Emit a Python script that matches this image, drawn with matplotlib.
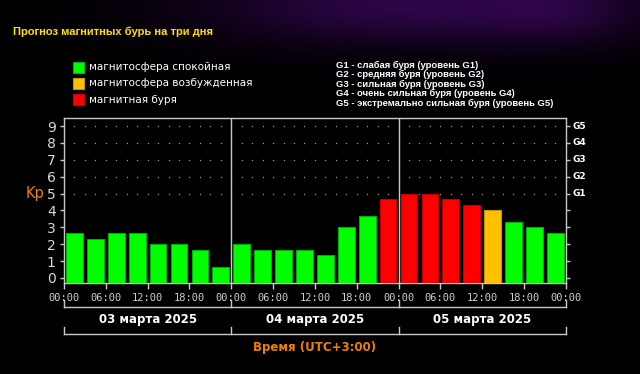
import numpy as np
import matplotlib.pyplot as plt
from matplotlib.patches import Rectangle
from matplotlib.transforms import blended_transform_factory

# Kp forecast, 3-hour intervals, 3 days
kp = [2.67, 2.33, 2.67, 2.67, 2.0, 2.0, 1.67, 0.67,
      2.0, 1.67, 1.67, 1.67, 1.33, 3.0, 3.67, 4.67,
      5.0, 5.0, 4.67, 4.33, 4.0, 3.33, 3.0, 2.67]
days = ['03 марта 2025', '04 марта 2025', '05 марта 2025']
hour_labels = ['00:00', '06:00', '12:00', '18:00']
g_levels = ['G1', 'G2', 'G3', 'G4', 'G5']
g_text = ['G1 - слабая буря (уровень G1)',
          'G2 - средняя буря (уровень G2)',
          'G3 - сильная буря (уровень G3)',
          'G4 - очень сильная буря (уровень G4)',
          'G5 - экстремально сильная буря (уровень G5)']
legend_names = ['магнитосфера спокойная', 'магнитосфера возбужденная', 'магнитная буря']

GREEN, ORANGE, RED = '#00ff00', '#ffc000', '#ff0000'
EDGE = {GREEN: '#00b000', ORANGE: '#c89600', RED: '#c00000'}


def bar_color(v):
    if v >= 4.33:
        return RED
    if v >= 4:
        return ORANGE
    return GREEN


fig = plt.figure(figsize=(6.4, 3.74), dpi=100, facecolor='black')

# background with a purple haze at the top
bg = fig.add_axes([0, 0, 1, 1], zorder=-10)
yy, xx = np.mgrid[0:374, 0:640]
glow = np.exp(-((xx - 400) ** 2 / (2 * 140 ** 2) + (yy - 5) ** 2 / (2 * 28 ** 2)))
glow += 0.5 * np.exp(-((xx - 560) ** 2 / (2 * 60 ** 2) + (yy - 10) ** 2 / (2 * 25 ** 2)))
img = np.zeros((374, 640, 3))
img[..., 0] = 0.17 * glow
img[..., 1] = 0.02 * glow
img[..., 2] = 0.27 * glow
bg.imshow(np.clip(img, 0, 1), aspect='auto')
bg.axis('off')

ax = fig.add_axes([0.1, 0.2433, 0.784, 0.441])
ax.set_facecolor('black')
ymin, ymax = -0.3, 9.47
ax.set_xlim(0, 72)
ax.set_ylim(ymin, ymax)

x = np.arange(len(kp)) * 3 + 1.5
cols = [bar_color(v) for v in kp]
ax.bar(x, np.array(kp) - ymin, bottom=ymin, width=2.4, color=cols,
       edgecolor=[EDGE[c] for c in cols], linewidth=0.8, zorder=3)

# dotted grid for levels 5..9
dx = np.arange(1.5, 72, 1.5)
for lvl in range(5, 10):
    ax.plot(dx, np.full_like(dx, lvl), ls='none', marker='s', ms=0.9,
            color='#9a9a9a', mec='none', zorder=1)

# day separators
for d in [24, 48]:
    ax.axvline(d, color='#c8c8c8', lw=1, zorder=2)

for s in ax.spines.values():
    s.set_color('#c8c8c8')
    s.set_linewidth(1)

ax.set_yticks(range(10))
ax.set_yticklabels([str(i) for i in range(10)])
ax.tick_params(axis='y', colors='#c8c8c8', labelcolor='#d8d8d8', labelsize=10,
               length=3, width=1, left=True, right=True, pad=3)
ax.set_xticks(range(0, 73, 6))
ax.set_xticklabels(hour_labels * 3 + ['00:00'], family='DejaVu Sans Mono')
ax.tick_params(axis='x', colors='#c8c8c8', labelcolor='#d0d0d0', labelsize=7.5,
               length=4, width=1, pad=3)

# right side G labels
for i, g in enumerate(g_levels):
    ax.text(72 + 0.9, 5 + i, g, color='white', fontsize=6.5, weight='bold',
            va='center', ha='left', clip_on=False)

ax.text(-0.058, 5, 'Kp', transform=blended_transform_factory(ax.transAxes, ax.transData),
        color='#f08000', fontsize=10.5, ha='center', va='center')

# brackets under the axis
tr = blended_transform_factory(ax.transData, fig.transFigure)
for y_line, y_top in [(0.179, 0.198), (0.107, 0.126)]:
    ax.plot([0, 72], [y_line, y_line], color='#c8c8c8', lw=1, transform=tr, clip_on=False)
    for d in [0, 24, 48, 72]:
        ax.plot([d, d], [y_line, y_top], color='#c8c8c8', lw=1, transform=tr, clip_on=False)
for i, day in enumerate(days):
    ax.text(12 + 24 * i, 0.1444, day, transform=tr, color='white', fontsize=8.5,
            weight='bold', ha='center', va='center')
ax.text(36, 0.072, 'Время (UTC+3:00)', transform=tr, color='#f08000', fontsize=8.5,
        weight='bold', ha='center', va='center')

# title
fig.text(13 / 640, 1 - 32 / 374, 'Прогноз магнитных бурь на три дня', color='#ffe000',
         fontsize=8, weight='bold', family='Liberation Sans', va='center')

# colour legend
for i, (name, c) in enumerate(zip(legend_names, [GREEN, ORANGE, RED])):
    yc = 1 - (67 + 16.5 * i) / 374
    fig.patches.append(Rectangle((73 / 640, yc - 5.5 / 374), 11 / 640, 11 / 374,
                                 transform=fig.transFigure, facecolor=c,
                                 edgecolor=EDGE[c], lw=0.8))
    fig.text(89 / 640, yc, name, color='white', fontsize=7.5, va='center')

# G scale legend
for i, t in enumerate(g_text):
    fig.text(336 / 640, 1 - (65 + 9.6 * i) / 374, t, color='white', fontsize=6.8,
             weight='bold', family='Liberation Sans', va='center')

fig.savefig('out.png', dpi=100, facecolor='black')
